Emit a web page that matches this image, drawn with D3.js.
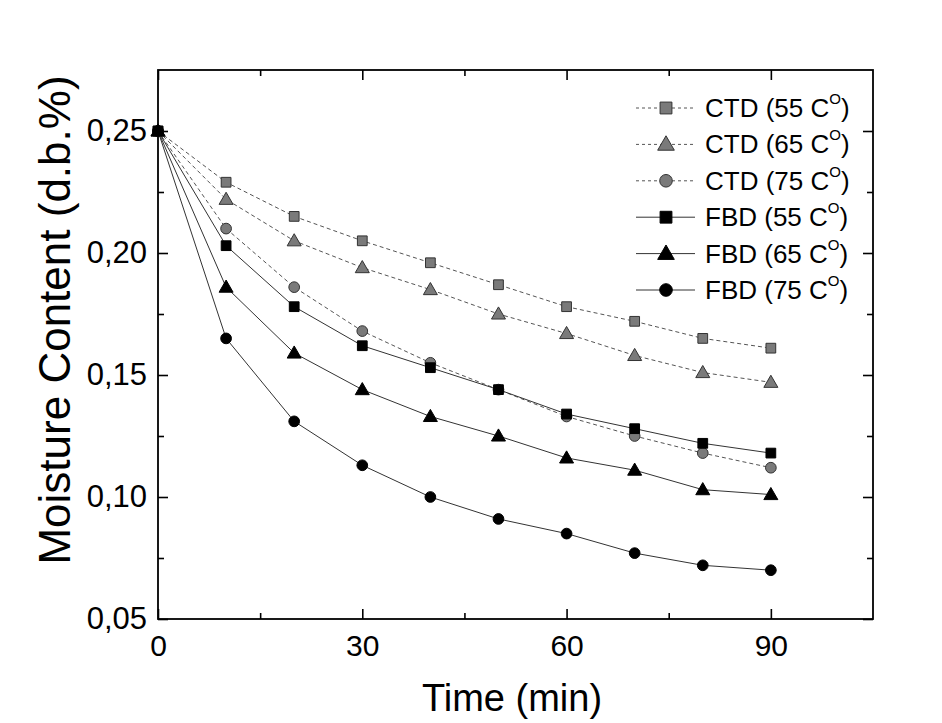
<!DOCTYPE html>
<html>
<head>
<meta charset="utf-8">
<script src="https://cdn.jsdelivr.net/npm/d3@7"></script>
<style>
  body { margin: 0; background: #fff; }
  svg text { font-family: "Liberation Sans", Arial, sans-serif; fill: #000; }
  .frame path.domain { display: none; }
  .frame line { stroke: #000; stroke-width: 1.6px; }
</style>
</head>
<body>
<svg id="chart" width="942" height="723"></svg>
<script>
// drying time (min)
var times = [0, 10, 20, 30, 40, 50, 60, 70, 80, 90];

// moisture content (d.b.)
var ctd55 = [0.250, 0.229, 0.215, 0.205, 0.196, 0.187, 0.178, 0.172, 0.165, 0.161];
var ctd65 = [0.250, 0.222, 0.205, 0.194, 0.185, 0.175, 0.167, 0.158, 0.151, 0.147];
var ctd75 = [0.250, 0.210, 0.186, 0.168, 0.155, 0.144, 0.133, 0.125, 0.118, 0.112];
var fbd55 = [0.250, 0.203, 0.178, 0.162, 0.153, 0.144, 0.134, 0.128, 0.122, 0.118];
var fbd65 = [0.250, 0.186, 0.159, 0.144, 0.133, 0.125, 0.116, 0.111, 0.103, 0.101];
var fbd75 = [0.250, 0.165, 0.131, 0.113, 0.100, 0.091, 0.085, 0.077, 0.072, 0.070];

var seriesNames = ["CTD (55 C", "CTD (65 C", "CTD (75 C", "FBD (55 C", "FBD (65 C", "FBD (75 C"];
var seriesValues = [ctd55, ctd65, ctd75, fbd55, fbd65, fbd75];
var seriesShapes = ["square", "triangle", "circle", "square", "triangle", "circle"];
var seriesDashed = [true, true, true, false, false, false];

var xMajor = [0, 30, 60, 90];
var xMinor = [15, 45, 75];
var yMajor = [0.05, 0.10, 0.15, 0.20, 0.25];
var yMinor = [0.075, 0.125, 0.175, 0.225];

var svg = d3.select("#chart"),
    margin = { top: 70, right: 69, bottom: 104, left: 158 },
    width = +svg.attr("width") - margin.left - margin.right,
    height = +svg.attr("height") - margin.top - margin.bottom;

var g = svg.append("g")
    .attr("transform", "translate(" + margin.left + "," + margin.top + ")");

var x = d3.scaleLinear().domain([0, 105]).range([0, width]);
var y = d3.scaleLinear().domain([0.05, 0.275]).range([height, 0]);

var comma = d3.formatLocale({ decimal: ",", thousands: ".", grouping: [3], currency: ["", ""] }).format(".2f");

// frame
g.append("rect")
    .attr("width", width).attr("height", height)
    .attr("fill", "none").attr("stroke", "#000").attr("stroke-width", 1.8);

// bottom axis, ticks pointing inward
var xAx = g.append("g").attr("class", "frame")
    .attr("transform", "translate(0," + height + ")")
    .call(d3.axisBottom(x).tickValues(xMajor).tickSize(-10).tickPadding(16).tickFormat(d3.format("d")));
g.append("g").attr("class", "frame")
    .attr("transform", "translate(0," + height + ")")
    .call(d3.axisBottom(x).tickValues(xMinor).tickSize(-6).tickFormat(""));
g.append("g").attr("class", "frame")
    .call(d3.axisTop(x).tickValues(xMajor).tickSize(-10).tickFormat(""));
g.append("g").attr("class", "frame")
    .call(d3.axisTop(x).tickValues(xMinor).tickSize(-6).tickFormat(""));

// left + right axes
var yAx = g.append("g").attr("class", "frame")
    .call(d3.axisLeft(y).tickValues(yMajor).tickSize(-10).tickPadding(11).tickFormat(comma));
g.append("g").attr("class", "frame")
    .call(d3.axisLeft(y).tickValues(yMinor).tickSize(-6).tickFormat(""));
g.append("g").attr("class", "frame")
    .attr("transform", "translate(" + width + ",0)")
    .call(d3.axisRight(y).tickValues(yMajor).tickSize(-10).tickFormat(""));
g.append("g").attr("class", "frame")
    .attr("transform", "translate(" + width + ",0)")
    .call(d3.axisRight(y).tickValues(yMinor).tickSize(-6).tickFormat(""));

xAx.selectAll("text").style("font-size", "30px").style("font-family", "Liberation Sans, Arial, sans-serif");
yAx.selectAll("text").style("font-size", "31px").style("font-family", "Liberation Sans, Arial, sans-serif");

// axis titles
svg.append("text")
    .attr("x", 512).attr("y", 711)
    .attr("text-anchor", "middle")
    .style("font-size", "38px")
    .text("Time (min)");

svg.append("text")
    .attr("transform", "translate(70,320) rotate(-90)")
    .attr("text-anchor", "middle")
    .style("font-size", "44px")
    .text("Moisture Content (d.b.%)");

// symbols
function symbolFor(shape, size) {
  var type = shape == "square" ? d3.symbolSquare : shape == "triangle" ? d3.symbolTriangle : d3.symbolCircle;
  return d3.symbol().type(type).size(size)();
}
var plotSize = { square: 95, triangle: 85, circle: 90 };
var legendSize = { square: 140, triangle: 120, circle: 125 };

var line = d3.line()
    .x(function(d) { return x(d.t); })
    .y(function(d) { return y(d.v); });

seriesValues.forEach(function(vals, i) {
  var pts = times.map(function(t, j) { return { t: t, v: vals[j] }; });
  var dashed = seriesDashed[i];

  g.append("path")
      .datum(pts)
      .attr("d", line)
      .attr("fill", "none")
      .attr("stroke", dashed ? "#555" : "#333")
      .attr("stroke-width", 1)
      .attr("stroke-dasharray", dashed ? "4,3" : null);

  g.selectAll(".pt" + i)
      .data(pts)
    .enter().append("path")
      .attr("class", "pt" + i)
      .attr("transform", function(d) {
        var dy = seriesShapes[i] == "triangle" ? 1 : 0;
        return "translate(" + x(d.t) + "," + (y(d.v) + dy) + ")";
      })
      .attr("d", symbolFor(seriesShapes[i], plotSize[seriesShapes[i]]))
      .attr("fill", dashed ? "#7a7a7a" : "#000")
      .attr("stroke", dashed ? "#333" : "#000")
      .attr("stroke-width", 1);
});

// legend
var legend = svg.append("g").attr("transform", "translate(636,108)");
seriesNames.forEach(function(name, i) {
  var row = legend.append("g").attr("transform", "translate(0," + (i * 36.4) + ")");
  var dashed = seriesDashed[i];
  row.append("line")
      .attr("x1", 0).attr("x2", 59)
      .attr("stroke", dashed ? "#555" : "#333")
      .attr("stroke-width", 1)
      .attr("stroke-dasharray", dashed ? "3,3" : null);
  row.append("path")
      .attr("transform", "translate(30," + (seriesShapes[i] == "triangle" ? 1 : 0) + ")")
      .attr("d", symbolFor(seriesShapes[i], legendSize[seriesShapes[i]]))
      .attr("fill", dashed ? "#7a7a7a" : "#000")
      .attr("stroke", dashed ? "#333" : "#000")
      .attr("stroke-width", 1);
  var t = row.append("text")
      .attr("x", 69).attr("y", 9)
      .style("font-size", "26px")
      .text(name);
  t.append("tspan")
      .attr("dy", -13)
      .style("font-size", "15px")
      .text("O");
  t.append("tspan")
      .attr("dy", 13)
      .text(")");
});
</script>
</body>
</html>
